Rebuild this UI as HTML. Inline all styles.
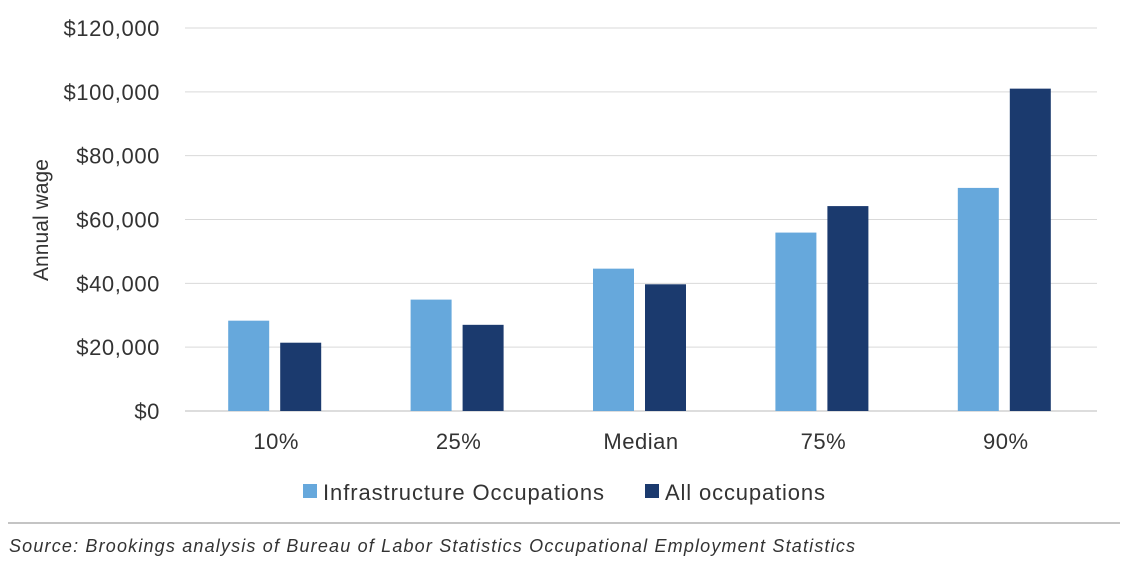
<!DOCTYPE html>
<html><head><meta charset="utf-8"><style>
body{margin:0;background:#fff;font-family:"Liberation Sans",sans-serif;}
svg text{font-family:"Liberation Sans",sans-serif;fill:#333;}
</style></head><body>
<svg width="1135" height="577">
<g id="grid"></g>
<g id="bars"></g>
<g id="labels"></g>
<text x="48" y="220" font-size="21" text-anchor="middle" textLength="122" transform="rotate(-90 48 220)">Annual wage</text>
<rect x="303" y="484" width="14" height="14" fill="#66a8dc"/>
<text x="323" y="500" font-size="22" textLength="281">Infrastructure Occupations</text>
<rect x="645" y="484" width="14" height="14" fill="#1b3a6e"/>
<text x="665" y="500" font-size="22" textLength="160">All occupations</text>
<line x1="8" y1="523" x2="1120" y2="523" stroke="#888" stroke-width="1"/>
<text x="9" y="552" font-size="18" font-style="italic" textLength="846">Source: Brookings analysis of Bureau of Labor Statistics Occupational Employment Statistics</text>
</svg>
<script>
const categories=["10%","25%","Median","75%","90%"];
const infraValues=[28300,34900,44600,55900,69900];
const allValues=[21400,27000,39700,64200,101000];
const yTicks=[0,20000,40000,60000,80000,100000,120000];
const NS="http://www.w3.org/2000/svg";
const x0=185,x1=1097,yBase=411,yTop=28,yMax=120000;
const y=v=>yBase-(v/yMax)*(yBase-yTop);
const band=(x1-x0)/categories.length;
const cx=i=>x0+band*(i+0.5);
function mk(tag,attrs,parent){const e=document.createElementNS(NS,tag);for(const k in attrs)e.setAttribute(k,attrs[k]);parent.appendChild(e);return e;}
const grid=document.getElementById('grid'),bars=document.getElementById('bars'),labels=document.getElementById('labels');
yTicks.forEach(t=>{
 const l=mk('line',{x1:x0,x2:x1,y1:y(t),y2:y(t),stroke:t===0?'#bbb':'#d9d9d9','stroke-width':1},grid);
 
 
 const tx=mk('text',{x:160,y:y(t)+8,'font-size':22,'text-anchor':'end','letter-spacing':'0.6'},labels);
 tx.textContent='$'+t.toLocaleString('en-US');
 
 
});
categories.forEach((c,i)=>{
 const a=mk('rect',{x:cx(i)-48,y:y(infraValues[i]),width:41,height:yBase-y(infraValues[i]),fill:'#66a8dc'},bars);
 
 
 const b=mk('rect',{x:cx(i)+4,y:y(allValues[i]),width:41,height:yBase-y(allValues[i]),fill:'#1b3a6e'},bars);
 
 
 const t=mk('text',{x:cx(i),y:449,'font-size':22,'text-anchor':'middle','letter-spacing':'0.5'},labels);
 t.textContent=c;
 
 
});
</script>
</body></html>
